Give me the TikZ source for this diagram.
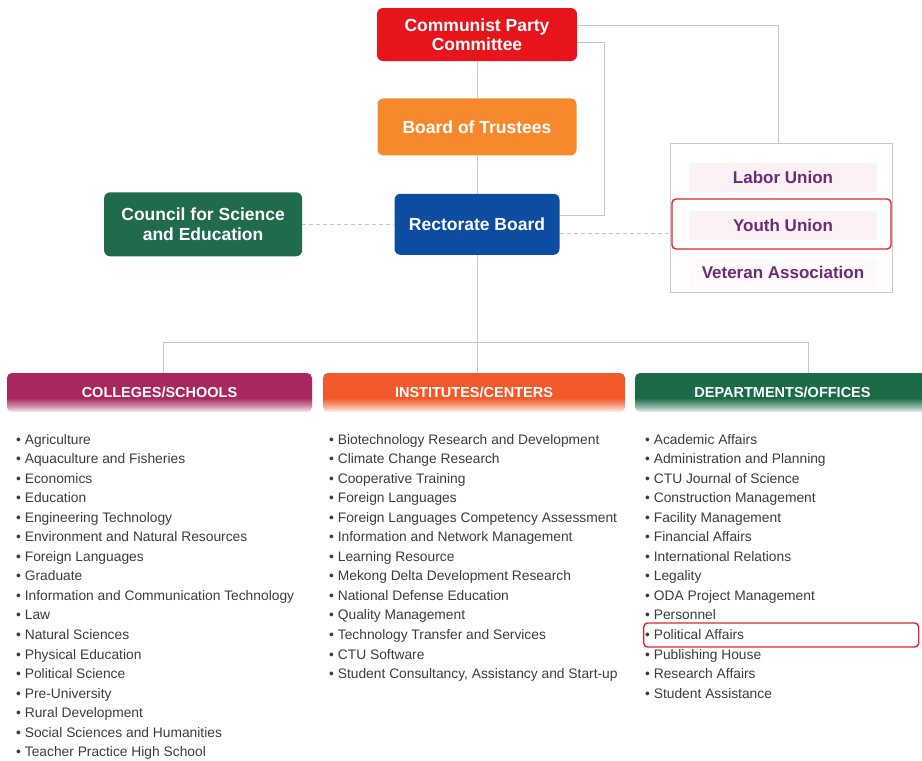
\documentclass[tikz,border=0pt]{standalone}
\usepackage{fontspec}
\setmainfont{Liberation Sans}
\usetikzlibrary{positioning}

\definecolor{partyred}{HTML}{E8141B}
\definecolor{trustorange}{HTML}{F7892D}
\definecolor{rectorblue}{HTML}{0C4DA2}
\definecolor{councilgreen}{HTML}{1F6B4C}
\definecolor{collmagenta}{HTML}{A8275F}
\definecolor{instorange}{HTML}{F1582A}
\definecolor{deptgreen}{HTML}{1C6B47}
\definecolor{unionpink}{HTML}{FCF1F5}
\definecolor{unionpurple}{HTML}{6B2C79}
\definecolor{framered}{HTML}{D9262C}
\definecolor{linegrey}{HTML}{C6C6C6}
\definecolor{itemgrey}{HTML}{3C3C3C}

% header fills: colour on top, fading to white at the bottom
\pgfdeclareverticalshading{collshade}{100bp}{color(0bp)=(white); color(25bp)=(collmagenta!8);
  color(33bp)=(collmagenta!55); color(43bp)=(collmagenta); color(100bp)=(collmagenta)}
\pgfdeclareverticalshading{instshade}{100bp}{color(0bp)=(white); color(25bp)=(instorange!8);
  color(33bp)=(instorange!55); color(43bp)=(instorange); color(100bp)=(instorange)}
\pgfdeclareverticalshading{deptshade}{100bp}{color(0bp)=(white); color(25bp)=(deptgreen!8);
  color(33bp)=(deptgreen!55); color(43bp)=(deptgreen); color(100bp)=(deptgreen)}

\begin{document}
\begin{tikzpicture}[x=1pt, y=-1pt,
  topbox/.style={rounded corners=6pt, inner sep=0pt, align=center, text=white,
    font=\bfseries\fontsize{17.5}{19.5}\selectfont},
  unionrow/.style={fill=unionpink, minimum width=188pt, minimum height=29pt, inner sep=0pt,
    text=unionpurple, font=\bfseries\fontsize{17}{19}\selectfont},
  header/.style={shade, rounded corners=5pt, inner sep=0pt, minimum height=39pt, text=white,
    font=\bfseries\fontsize{14.5}{16}\selectfont},
  item/.style={anchor=west, inner sep=0pt, text=itemgrey, text height=11pt, text depth=1pt,
    font=\fontsize{13.8}{16}\selectfont},
  link/.style={draw=linegrey, line width=0.9pt},
  dashlink/.style={link, dash pattern=on 4pt off 3pt},
  redframe/.style={draw=framered, line width=1.4pt, rounded corners=4pt, inner sep=0pt}]
  \useasboundingbox (0,0) rectangle (922,761);

  % top of the chart
  \node[topbox, fill=partyred, minimum width=200pt, minimum height=53pt] (cpc) at (477,34.5)
    {Communist Party\\Committee};
  \node[topbox, fill=trustorange, minimum width=199pt, minimum height=57pt, below=37pt of cpc] (board)
    {Board of Trustees};
  \node[topbox, fill=rectorblue, minimum width=165pt, minimum height=61pt, below=38pt of board] (rector)
    {Rectorate Board};
  \node[topbox, fill=councilgreen, minimum width=198pt, minimum height=64pt, left=92pt of rector] (council)
    {Council for Science\\and Education};

  % unions panel
  \node[draw=linegrey, line width=0.8pt, minimum width=222pt, minimum height=149pt] (unions) at (781,217.5) {};
  \node[unionrow] (labor) at (783,177) {Labor Union};
  \node[unionrow] (youth) at (783,225) {Youth Union};
  \node[unionrow, fill=unionpink!45] (veteran) at (783,272) {Veteran Association};
  \node[redframe, minimum width=219pt, minimum height=50pt] (youthframe) at (781.5,224) {};

  \draw[link] (cpc) -- (board);
  \draw[link] (board) -- (rector);
  \draw[link] ([yshift=9.5pt]cpc.east) -| ([xshift=-3pt]unions.north);
  \draw[link] ([yshift=-7.5pt]cpc.east) -- ++(27,0) |- ([yshift=8.5pt]rector.east);
  \draw[dashlink] (council) -- (rector);
  \coordinate (dashR) at ([yshift=-9.5pt]rector.east);
  \draw[dashlink] (dashR) -- (dashR -| unions.west);

  % three groups
  \node[header, shading=collshade, minimum width=305pt] (coll) at (159.5,392.5) {COLLEGES/SCHOOLS};
  \node[header, shading=instshade, minimum width=302pt] (inst) at (474,392.5) {INSTITUTES/CENTERS};
  \node[header, shading=deptshade, minimum width=295pt] (dept) at (782.5,392.5) {DEPARTMENTS/OFFICES};

  \coordinate (busL) at (163,342);
  \coordinate (busR) at (808,342);
  \draw[link] (rector.south) -- (rector.south |- inst.north);
  \draw[link] (busL) -- (busR);
  \draw[link] (busL) -- (busL |- coll.north);
  \draw[link] (busR) -- (busR |- dept.north);

  \foreach \name [count=\i] in {Agriculture, Aquaculture and Fisheries, Economics, Education,
      Engineering Technology, Environment and Natural Resources, Foreign Languages, Graduate,
      Information and Communication Technology, Law, Natural Sciences, Physical Education,
      Political Science, Pre-University, Rural Development, Social Sciences and Humanities,
      Teacher Practice High School}
    \node[item] (coll-\i) at (16,{439+19.55*(\i-1)}) {\textbullet\ \name};

  \foreach \name [count=\i] in {Biotechnology Research and Development, Climate Change Research,
      Cooperative Training, Foreign Languages, Foreign Languages Competency Assessment,
      Information and Network Management, Learning Resource, Mekong Delta Development Research,
      National Defense Education, Quality Management, Technology Transfer and Services,
      CTU Software, {Student Consultancy, Assistancy and Start-up}}
    \node[item] (inst-\i) at (329,{439+19.55*(\i-1)}) {\textbullet\ \name};

  \foreach \name [count=\i] in {Academic Affairs, Administration and Planning, CTU Journal of Science,
      Construction Management, Facility Management, Financial Affairs, International Relations,
      Legality, ODA Project Management, Personnel, Political Affairs, Publishing House,
      Research Affairs, Student Assistance}
    \node[item] (dept-\i) at (645,{439+19.55*(\i-1)}) {\textbullet\ \name};

  \node[redframe, minimum width=275pt, minimum height=24pt, anchor=west] (polframe)
    at (643,635) {};
\end{tikzpicture}
\end{document}
